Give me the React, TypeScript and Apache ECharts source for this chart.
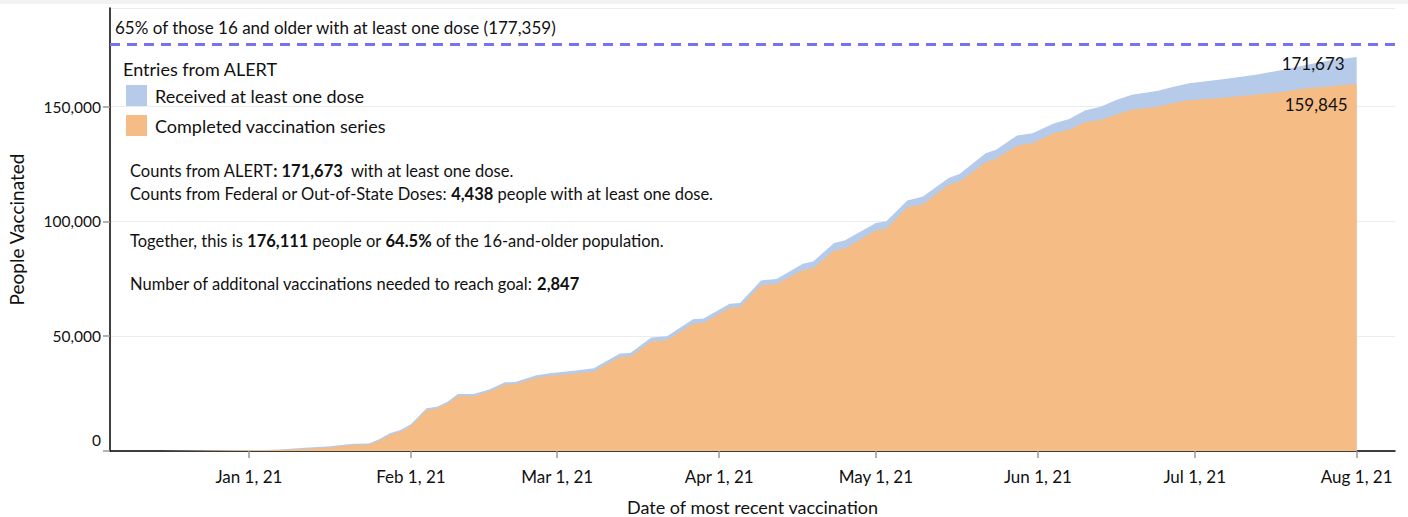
import React, { useEffect, useRef } from "react";
import * as echarts from "echarts";

const dates = [
  "2020-12-15", "2020-12-22", "2020-12-29", "2021-01-04", "2021-01-07", "2021-01-11", "2021-01-14",
  "2021-01-16", "2021-01-21", "2021-01-24", "2021-01-26", "2021-01-28", "2021-01-30", "2021-02-01",
  "2021-02-04", "2021-02-06", "2021-02-08", "2021-02-10", "2021-02-13", "2021-02-16", "2021-02-19",
  "2021-02-21", "2021-02-25", "2021-02-28", "2021-03-05", "2021-03-08", "2021-03-13", "2021-03-15",
  "2021-03-19", "2021-03-22", "2021-03-27", "2021-03-29", "2021-04-03", "2021-04-05", "2021-04-09",
  "2021-04-12", "2021-04-17", "2021-04-19", "2021-04-23", "2021-04-25", "2021-05-01", "2021-05-03",
  "2021-05-07", "2021-05-10", "2021-05-15", "2021-05-17", "2021-05-22", "2021-05-24", "2021-05-28",
  "2021-05-31", "2021-06-04", "2021-06-07", "2021-06-10", "2021-06-13", "2021-06-16", "2021-06-19",
  "2021-06-24", "2021-06-27", "2021-06-30", "2021-07-06", "2021-07-13", "2021-07-18", "2021-07-22",
  "2021-07-27", "2021-08-01",
];

const atLeastOneDose = [
  50, 150, 300, 450, 600, 1300, 1700,
  2000, 3200, 3300, 5200, 7700, 9100, 11600,
  18600, 19300, 21500, 24800, 24800, 26800, 29900,
  30100, 33000, 34000, 35200, 36000, 42500, 42700,
  49400, 50000, 57400, 57700, 64200, 64500, 74300,
  74900, 81600, 82600, 90600, 91700, 99300, 100100,
  109100, 110900, 119000, 120700, 129700, 131200, 137400,
  138400, 142700, 144600, 148300, 150000, 152900, 155200,
  157000, 158700, 160200, 161900, 164000, 166100, 168100,
  170200, 171673,
];

const completedSeries = [
  30, 100, 200, 300, 400, 900, 1200,
  1400, 2600, 2700, 4500, 7000, 8400, 10800,
  17800, 18500, 20600, 23900, 23900, 25900, 28900,
  29100, 31900, 32800, 33900, 34600, 41000, 41200,
  47700, 48200, 55400, 55800, 62400, 62700, 72200,
  72800, 78800, 79600, 87400, 88100, 96100, 96800,
  106200, 107500, 116100, 117300, 125800, 127300, 133000,
  134200, 138400, 140000, 143200, 144200, 146600, 148700,
  150000, 151700, 152800, 153800, 155300, 156500, 157900,
  158900, 159845,
];

const goalValue = 177359;
const goalLabel = "65% of those 16 and older with at least one dose (177,359)";
const federalDoses = 4438;
const togetherTotal = 176111;
const togetherPct = "64.5%";
const neededForGoal = 2847;
const yTicks = [0, 50000, 100000, 150000];

const FONT = "Lato, 'Open Sans', sans-serif";
const BLUE = "#b5cbe9";
const ORANGE = "#f5bd85";
const monthNames = ["Jan", "Feb", "Mar", "Apr", "May", "Jun", "Jul", "Aug", "Sep", "Oct", "Nov", "Dec"];
const fmt = (n: number) => n.toLocaleString("en-US");
const NOTE = 16.5;

export default function App() {
  const ref = useRef<HTMLDivElement>(null);
  useEffect(() => {
    if (!ref.current) return;
    const chart = echarts.init(ref.current, null, { renderer: "svg" });
    const last = dates.length - 1;
    const blueData = dates.map((d, i) => [d, atLeastOneDose[i]]);
    const orangeData = dates.map((d, i) => [d, completedSeries[i]]);
    const day = 86400000;
    const bold = { b: { fontWeight: "bold", fontSize: NOTE, fontFamily: FONT, fill: "#111" } };
    chart.setOption({
      animation: false,
      backgroundColor: "#ffffff",
      textStyle: { fontFamily: FONT },
      grid: { left: 110, right: 13, top: 8, bottom: 66, containLabel: false, outerBoundsMode: "none" },
      legend: {
        orient: "vertical",
        left: 126,
        top: 85,
        padding: 0,
        itemWidth: 21,
        itemHeight: 21,
        itemGap: 9,
        icon: "rect",
        textStyle: { fontSize: 18, color: "#111", fontFamily: FONT, padding: [0, 0, 0, 3] },
        data: ["Received at least one dose", "Completed vaccination series"],
      },
      xAxis: {
        type: "time",
        min: new Date(2020, 11, 5, 10).getTime(),
        max: new Date(2021, 7, 8, 8).getTime(),
        minInterval: 28 * day,
        maxInterval: 31 * day,
        name: "Date of most recent vaccination",
        nameLocation: "middle",
        nameGap: 47,
        nameTextStyle: { fontSize: 18, color: "#111", fontFamily: FONT },
        axisLine: { lineStyle: { color: "#000", width: 1.5 } },
        axisTick: { show: true, length: 7, lineStyle: { color: "#999", width: 1.5 } },
        axisLabel: {
          fontSize: 17,
          color: "#111",
          margin: 17,
          fontFamily: FONT,
          formatter: (v: number) => {
            const d = new Date(v);
            return `${monthNames[d.getMonth()]} ${d.getDate()}, ${String(d.getFullYear()).slice(2)}`;
          },
        },
        splitLine: { show: false },
      },
      yAxis: {
        type: "value",
        min: yTicks[0],
        max: 193000,
        interval: yTicks[1] - yTicks[0],
        name: "People Vaccinated",
        nameLocation: "middle",
        nameGap: 84,
        nameTextStyle: { fontSize: 19, color: "#111", fontFamily: FONT },
        axisLine: { show: true, lineStyle: { color: "#000", width: 1.5 } },
        axisTick: { show: true, length: 7, lineStyle: { color: "#999", width: 1.5 } },
        axisLabel: {
          fontSize: 15.5,
          color: "#111",
          margin: 9,
          fontFamily: FONT,
          showMaxLabel: false,
          formatter: (v: number) => (v === 0 ? "{z|0}" : fmt(v)),
          rich: { z: { fontSize: 15.5, color: "#111", fontFamily: FONT, padding: [0, 0, 22, 0] } },
        },
        splitLine: { show: true, lineStyle: { color: "#ececec", width: 1 } },
      },
      series: [
        {
          name: "Received at least one dose",
          type: "line",
          data: blueData,
          symbol: "none",
          lineStyle: { width: 0 },
          itemStyle: { color: BLUE },
          areaStyle: { color: BLUE, opacity: 1 },
          z: 2,
          markLine: {
            silent: true,
            symbol: "none",
            data: [{ yAxis: goalValue }],
            lineStyle: { color: "#7474f2", width: 3, type: [10, 7] },
            label: {
              show: true,
              position: "insideStartTop",
              formatter: goalLabel,
              fontSize: 17,
              color: "#111",
              fontFamily: FONT,
              distance: [5, 8],
            },
          },
          markPoint: {
            symbol: "circle",
            symbolSize: 0,
            data: [{ coord: [dates[last], atLeastOneDose[last]] }],
            label: {
              show: true,
              position: "left",
              distance: 12,
              offset: [0, 7],
              formatter: fmt(atLeastOneDose[last]),
              fontSize: 17,
              color: "#111",
              fontFamily: FONT,
            },
          },
        },
        {
          name: "Completed vaccination series",
          type: "line",
          data: orangeData,
          symbol: "none",
          lineStyle: { width: 0 },
          itemStyle: { color: ORANGE },
          areaStyle: { color: ORANGE, opacity: 1 },
          z: 3,
          markPoint: {
            symbol: "circle",
            symbolSize: 0,
            data: [{ coord: [dates[last], completedSeries[last]] }],
            label: {
              show: true,
              position: "left",
              distance: 9,
              offset: [0, 20],
              formatter: fmt(completedSeries[last]),
              fontSize: 17,
              color: "#111",
              fontFamily: FONT,
            },
          },
        },
      ],
      graphic: [
        { type: "rect", left: 0, top: 0, shape: { width: 1408, height: 4 }, style: { fill: "#f3f3f3" }, silent: true },
        {
          type: "text", left: 123, top: 60,
          style: { text: "Entries from ALERT", fontSize: 18, fill: "#111", fontFamily: FONT },
        },
        {
          type: "text", left: 130, top: 162,
          style: {
            text: `Counts from ALERT{b|: ${fmt(atLeastOneDose[last])}}  with at least one dose.`,
            fontSize: NOTE, fill: "#111", fontFamily: FONT, rich: bold,
          },
        },
        {
          type: "text", left: 130, top: 185,
          style: {
            text: `Counts from Federal or Out-of-State Doses: {b|${fmt(federalDoses)}} people with at least one dose.`,
            fontSize: NOTE, fill: "#111", fontFamily: FONT, rich: bold,
          },
        },
        {
          type: "text", left: 130, top: 232,
          style: {
            text: `Together, this is {b|${fmt(togetherTotal)}} people or {b|${togetherPct}} of the 16-and-older population.`,
            fontSize: NOTE, fill: "#111", fontFamily: FONT, rich: bold,
          },
        },
        {
          type: "text", left: 130, top: 275,
          style: {
            text: `Number of additonal vaccinations needed to reach goal: {b|${fmt(neededForGoal)}}`,
            fontSize: NOTE, fill: "#111", fontFamily: FONT, rich: bold,
          },
        },
      ],
    });
    return () => chart.dispose();
  }, []);
  return <div ref={ref} style={{ position: "absolute", left: 0, top: 0, width: 1408, height: 517 }} />;
}
